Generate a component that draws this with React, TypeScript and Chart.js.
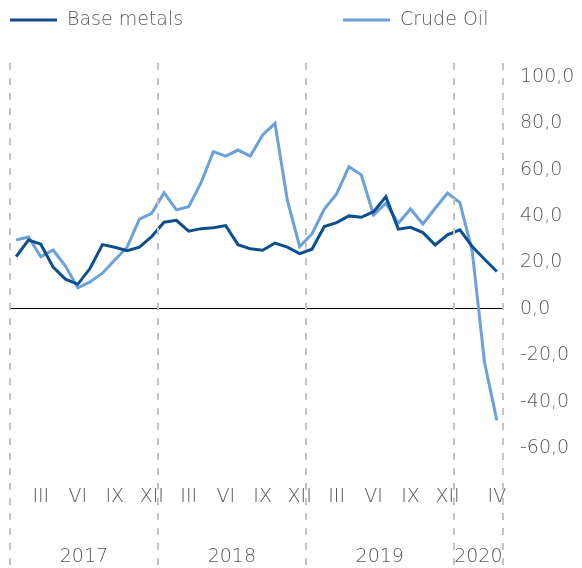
import React, { useEffect, useRef } from 'react';
import { Chart, registerables } from 'chart.js';
Chart.register(...registerables);

const baseMetals = [22.5, 29.7, 27.9, 18.0, 12.8, 10.6, 17.5, 27.7, 26.6, 25.1, 26.6, 31.2,
  37.4, 38.2, 33.5, 34.6, 35.0, 35.9, 27.7, 25.9, 25.3, 28.4, 26.6, 23.8,
  25.7, 35.5, 37.2, 40.1, 39.5, 41.9, 48.4, 34.4, 35.2, 32.9, 27.6, 31.9,
  34.1, 26.9, 21.4, 16.1];
const crudeOil = [29.7, 31.0, 22.5, 25.4, 18.5, 9.1, 11.6, 15.4, 21.1, 26.6, 38.7, 41.2,
  50.1, 42.7, 44.1, 54.4, 67.8, 65.9, 68.5, 65.9, 75.0, 80.0, 47.0, 26.9,
  32.3, 43.0, 49.6, 61.3, 57.8, 40.5, 45.6, 36.9, 43.1, 36.6, 43.4, 49.9,
  45.8, 25.0, -23.0, -48.1];
const seriesNames = ['Base metals', 'Crude Oil'];
const seriesColors = ['#0b4f8f', '#6aa1db'];
const monthTickIndex = [2, 5, 8, 11, 14, 17, 20, 23, 26, 29, 32, 35, 39];
const monthTickLabels = ['III', 'VI', 'IX', 'XII', 'III', 'VI', 'IX', 'XII', 'III', 'VI', 'IX', 'XII', 'IV'];
const years = ['2017', '2018', '2019', '2020'];
const yearBounds = [0, 12, 24, 36, 40];
const yTicks = [-60, -40, -20, 0, 20, 40, 60, 80, 100];

const FONT = '"DejaVu Sans", sans-serif';
const FSIZE = 19;
const FWEIGHT = '200';
const TEXT = '#595959';

export default function App() {
  const ref = useRef<HTMLCanvasElement>(null);
  useEffect(() => {
    document.body.style.margin = '0';
    const canvas = ref.current!;
    const toPts = (arr: number[]) => arr.map((v, i) => ({ x: i + 0.5, y: v }));
    const decor = {
      id: 'decor',
      afterDraw(chart: any) {
        const c = chart.ctx;
        const xs = chart.scales.x;
        c.save();
        c.strokeStyle = '#c4c4c4';
        c.lineWidth = 2;
        c.setLineDash([7, 8]);
        yearBounds.forEach((b) => {
          const px = Math.round(xs.getPixelForValue(b));
          c.beginPath();
          c.moveTo(px, 63);
          c.lineTo(px, chart.height);
          c.stroke();
        });
        c.setLineDash([]);
        c.fillStyle = TEXT;
        c.font = `${FWEIGHT} ${FSIZE}px ${FONT}`;
        c.textAlign = 'center';
        c.textBaseline = 'middle';
        years.forEach((y, i) => {
          const mid = (yearBounds[i] + yearBounds[i + 1]) / 2;
          c.fillText(y, xs.getPixelForValue(mid), 557);
        });
        const legendX = [10, 343];
        chart.data.datasets.forEach((ds: any, i: number) => {
          const lx = legendX[i];
          c.strokeStyle = ds.borderColor;
          c.lineWidth = 3;
          c.beginPath();
          c.moveTo(lx, 20);
          c.lineTo(lx + 47, 20);
          c.stroke();
          c.textAlign = 'left';
          c.fillStyle = TEXT;
          c.fillText(ds.label, lx + 57, 20);
        });
        c.restore();
      },
    };
    const chart = new Chart(canvas, {
      type: 'line',
      data: {
        datasets: [
          { label: seriesNames[0], data: toPts(baseMetals), borderColor: seriesColors[0], backgroundColor: seriesColors[0], borderWidth: 3, pointRadius: 0, tension: 0 },
          { label: seriesNames[1], data: toPts(crudeOil), borderColor: seriesColors[1], backgroundColor: seriesColors[1], borderWidth: 3, pointRadius: 0, tension: 0 },
        ],
      },
      options: {
        animation: false,
        responsive: false,
        layout: { padding: { left: 10, top: 77, right: 0, bottom: 0 } },
        plugins: { legend: { display: false }, tooltip: { enabled: false } },
        scales: {
          x: {
            type: 'linear',
            min: 0,
            max: 40,
            grid: { display: false },
            border: { display: false },
            afterFit: (s: any) => { s.height = 120; },
            afterBuildTicks: (s: any) => { s.ticks = monthTickIndex.map((m) => ({ value: m + 0.5 })); },
            ticks: {
              padding: 30,
              maxRotation: 0,
              autoSkip: false,
              color: TEXT,
              font: { family: FONT, size: FSIZE, weight: FWEIGHT },
              callback: (v: any) => {
                const idx = monthTickIndex.indexOf(Number(v) - 0.5);
                return idx >= 0 ? monthTickLabels[idx] : '';
              },
            },
          },
          y: {
            position: 'right',
            min: -60,
            max: 100,
            afterFit: (s: any) => { s.width = 79; },
            afterBuildTicks: (s: any) => { s.ticks = yTicks.map((v) => ({ value: v })); },
            border: { display: false },
            grid: {
              drawTicks: false,
              color: (ctx: any) => (ctx.tick && ctx.tick.value === 0 ? '#000000' : 'rgba(0,0,0,0)'),
              lineWidth: 1,
            },
            ticks: {
              padding: 17,
              color: TEXT,
              font: { family: FONT, size: FSIZE, weight: FWEIGHT },
              callback: (v: any) => Number(v).toFixed(1).replace('.', ','),
            },
          },
        },
      },
      plugins: [decor],
    });
    return () => chart.destroy();
  }, []);
  return <canvas ref={ref} width={582} height={568} style={{ display: 'block' }} />;
}
